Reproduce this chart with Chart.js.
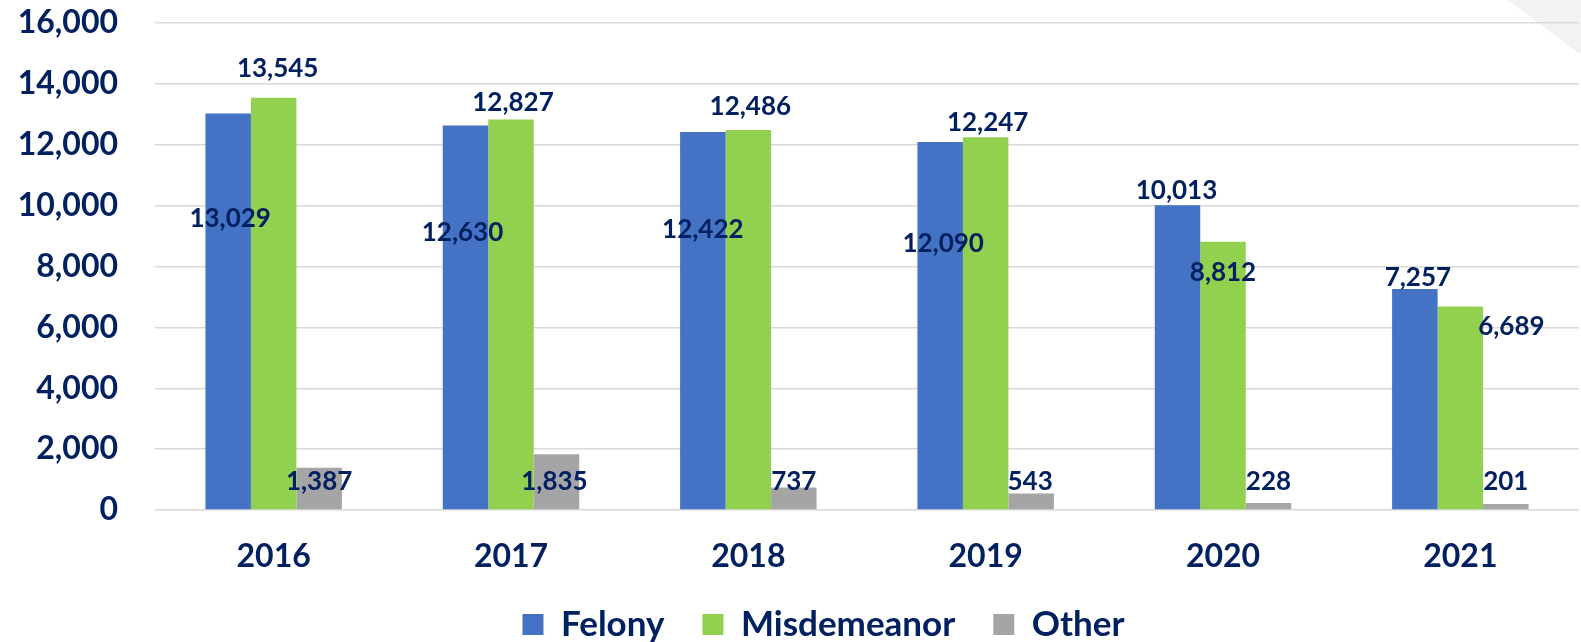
<!DOCTYPE html>
<html>
<head>
<meta charset="utf-8">
<script src="https://cdn.jsdelivr.net/npm/chart.js@4"></script>
<style>
  html, body { margin: 0; padding: 0; background: #fff; }
  #wrap { width: 1581px; height: 642px; }
</style>
</head>
<body>
<div id="wrap"><canvas id="casesChart"></canvas></div>
<script>
const years = ["2016", "2017", "2018", "2019", "2020", "2021"];
const felony = [13029, 12630, 12422, 12090, 10013, 7257];
const misdemeanor = [13545, 12827, 12486, 12247, 8812, 6689];
const other = [1387, 1835, 737, 543, 228, 201];
const yTicks = [0, 2000, 4000, 6000, 8000, 10000, 12000, 14000, 16000];

const navy = "#002060";
const fontFamily = "Lato, 'Open Sans', sans-serif";

// hand placed labels, like the original: [dx, dy] from bar top (Other: from the base line)
const labelNudge = [
  [[2, 105], [-3, 107], [0, 98], [3, 102], [-1, -15], [3, -12]],
  [[4, -29], [2, -17], [2, -23], [2, -15], [0, 31], [51, 20]],
  [[0, -28], [-2, -28], [0, -28], [-1, -28], [0, -28], [0, -28]]
];

const cornerShade = {
  id: "cornerShade",
  beforeDraw(chart) {
    const c = chart.ctx;
    c.save();
    c.fillStyle = "#f2f2f2";
    c.beginPath();
    c.moveTo(1508, 0);
    c.lineTo(chart.width, 0);
    c.lineTo(chart.width, 55);
    c.closePath();
    c.fill();
    c.restore();
  }
};

// legend in the original sits a bit right of the canvas centre
const legendShift = {
  id: "legendShift",
  afterLayout(chart) {
    chart.legend.left += 34;
    chart.legend.right += 34;
  }
};

const barLabels = {
  id: "barLabels",
  afterDatasetsDraw(chart) {
    const c = chart.ctx;
    const base = chart.scales.y.getPixelForValue(0);
    c.save();
    c.fillStyle = navy;
    c.font = "bold 26px " + fontFamily;
    c.textAlign = "center";
    c.textBaseline = "middle";
    chart.data.datasets.forEach((ds, i) => {
      chart.getDatasetMeta(i).data.forEach((bar, j) => {
        const [dx, dy] = labelNudge[i][j];
        const y0 = i === 2 ? base : bar.y;
        c.fillText(ds.data[j].toLocaleString("en-US"), bar.x + dx, y0 + dy);
      });
    });
    c.restore();
  }
};

const ctx = document.getElementById("casesChart");

new Chart(ctx, {
  type: 'bar',
  data: {
    labels: years,
    datasets: [
      { label: "Felony", data: felony, backgroundColor: "#4472C4" },
      { label: "Misdemeanor", data: misdemeanor, backgroundColor: "#92D050" },
      { label: "Other", data: other, backgroundColor: "#A5A5A5" }
    ]
  },
  options: {
    responsive: true,
    maintainAspectRatio: false,
    animation: false,
    categoryPercentage: 0.575,
    barPercentage: 1,
    layout: { padding: { top: 23, right: 2, left: 0, bottom: -10 } },
    plugins: {
      legend: {
        position: "bottom",
        labels: {
          color: navy,
          font: { family: fontFamily, size: 35, weight: "bold" },
          boxWidth: 21,
          boxHeight: 21,
          padding: 38
        }
      },
      tooltip: { enabled: false }
    },
    scales: {
      x: {
        grid: { display: false },
        border: { display: false },
        ticks: {
          color: navy,
          padding: 19,
          font: { family: fontFamily, size: 32, weight: "bold" }
        },
        afterFit: s => { s.height = 59; }
      },
      y: {
        min: 0,
        max: 16000,
        afterBuildTicks: s => { s.ticks = yTicks.map(v => ({ value: v })); },
        grid: { color: "#d9d9d9", lineWidth: 1.5, drawTicks: false },
        border: { display: false },
        ticks: {
          color: navy,
          padding: 37,
          font: { family: fontFamily, size: 32, weight: "bold" },
          callback: v => v.toLocaleString("en-US")
        },
        afterFit: s => {
          s.width = 155;
          s.paddingTop = 20;
          s.paddingBottom = 20;
        }
      }
    }
  },
  plugins: [cornerShade, legendShift, barLabels]
});
</script>
</body>
</html>
